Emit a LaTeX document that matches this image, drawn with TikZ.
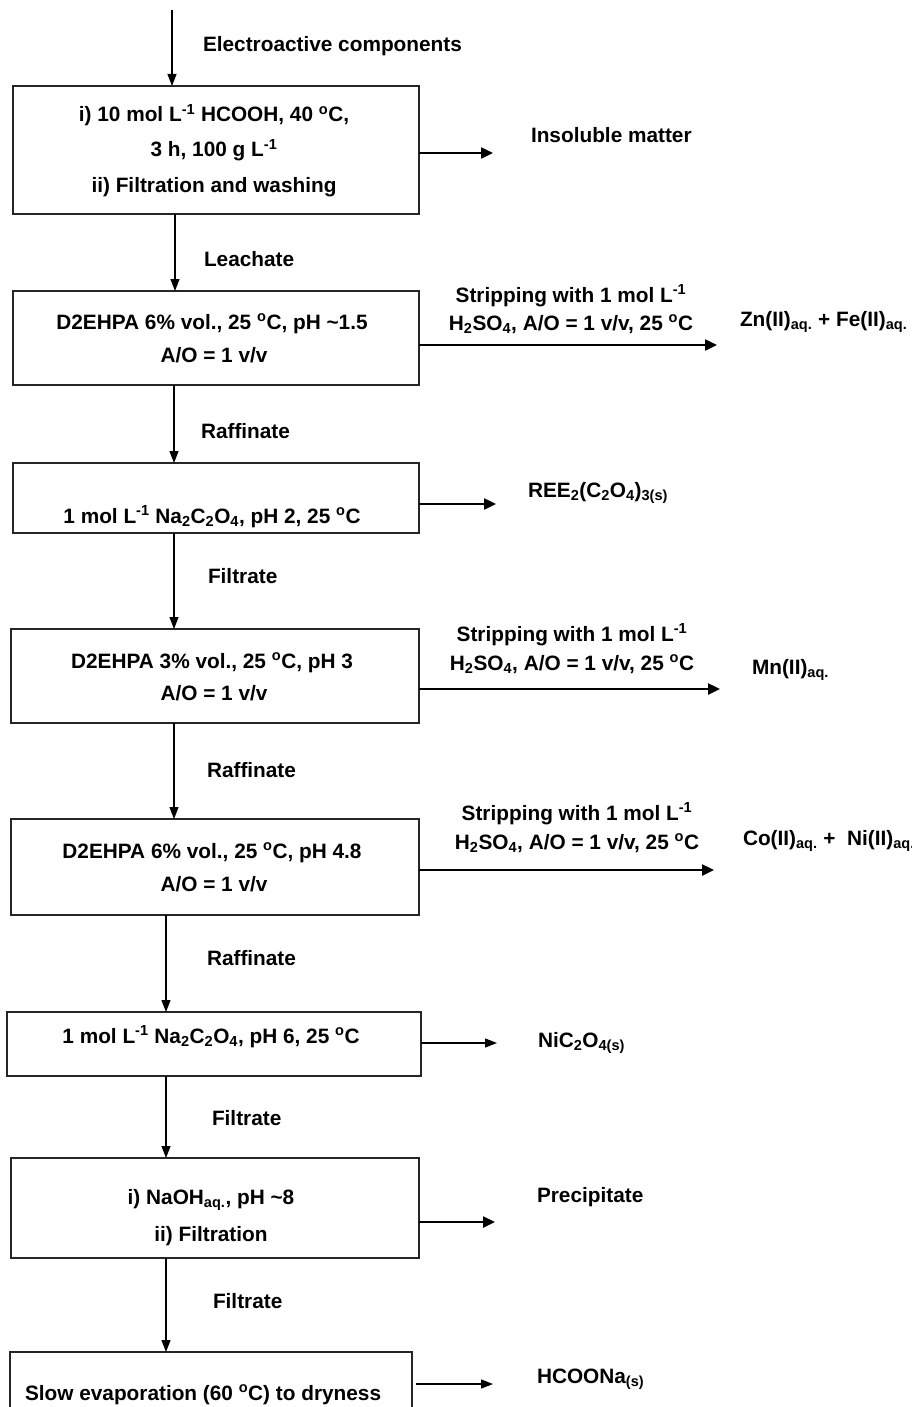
\documentclass[tikz,border=0pt]{standalone}
\usepackage{fontspec}
\setmainfont{Liberation Sans}
\usetikzlibrary{arrows.meta}
\newcommand{\sps}[1]{\textsuperscript{#1}}
\newcommand{\sbs}[1]{\textsubscript{#1}}
\begin{document}
\begin{tikzpicture}[x=1pt,y=-1pt,
  every node/.style={font=\fontsize{20.8}{24}\selectfont\bfseries, inner sep=0pt, outer sep=0pt},
  box/.style={draw=black!85, line width=1.2pt},
  flow/.style={line width=1.2pt, -{Triangle[length=12pt,width=9pt]}},
  outarrow/.style={line width=2.4pt, -{Triangle[length=12pt,width=11pt]}},
  thinout/.style={line width=1.2pt, -{Triangle[length=12pt,width=9pt]}},
  lbl/.style={anchor=base west},
  ctr/.style={anchor=base}]
\useasboundingbox (0,0) rectangle (912,1407);
\fill[white] (0,0) rectangle (912,1407);

% boxes
\node[box, minimum width=406pt, minimum height=128pt] (b1) at (216,150) {};
\node[box, minimum width=406pt, minimum height=94pt] (b2) at (216,338) {};
\node[box, minimum width=406pt, minimum height=70pt] (b3) at (216,498) {};
\node[box, minimum width=408pt, minimum height=94pt] (b4) at (215,676) {};
\node[box, minimum width=408pt, minimum height=96pt] (b5) at (215,867) {};
\node[box, minimum width=414pt, minimum height=64pt] (b6) at (214,1044) {};
\node[box, minimum width=408pt, minimum height=100pt] (b7) at (215,1208) {};
\node[box, minimum width=402pt, minimum height=68pt] (b8) at (211,1386) {};

% box texts
\node[ctr] (t1a) at (214,122) {i) 10 mol L\sps{-1} HCOOH, 40 \sps{o}C,};
\node[ctr] (t1b) at (214,157) {3 h, 100 g L\sps{-1}};
\node[ctr] (t1c) at (214,193) {ii) Filtration and washing};
\node[ctr] (t2a) at (212,329) {D2EHPA 6\% vol., 25 \sps{o}C, pH \textasciitilde1.5};
\node[ctr] (t2b) at (214,362) {A/O = 1 v/v};
\node[ctr] (t3) at (212,523) {1 mol L\sps{-1} Na\sbs{2}C\sbs{2}O\sbs{4}, pH 2, 25 \sps{o}C};
\node[ctr] (t4a) at (212,668) {D2EHPA 3\% vol., 25 \sps{o}C, pH 3};
\node[ctr] (t4b) at (214,700) {A/O = 1 v/v};
\node[ctr] (t5a) at (212,858) {D2EHPA 6\% vol., 25 \sps{o}C, pH 4.8};
\node[ctr] (t5b) at (214,891) {A/O = 1 v/v};
\node[ctr] (t6) at (211,1043) {1 mol L\sps{-1} Na\sbs{2}C\sbs{2}O\sbs{4}, pH 6, 25 \sps{o}C};
\node[ctr] (t7a) at (211,1204) {i) NaOH\sbs{aq.}, pH \textasciitilde8};
\node[ctr] (t7b) at (211,1241) {ii) Filtration};
\node[lbl] (t8) at (25,1400) {Slow evaporation (60 \sps{o}C) to dryness};

% stream labels
\node[lbl] (l0) at (203,52) {Electroactive components};
\node[lbl] (l1) at (204,266) {Leachate};
\node[lbl] (l2) at (201,438) {Raffinate};
\node[lbl] (l3) at (208,583) {Filtrate};
\node[lbl] (l4) at (207,777) {Raffinate};
\node[lbl] (l5) at (207,965) {Raffinate};
\node[lbl] (l6) at (212,1125) {Filtrate};
\node[lbl] (l7) at (213,1308) {Filtrate};

% stripping labels
\node[ctr] (s2a) at (571,302) {Stripping with 1 mol L\sps{-1}};
\node[ctr] (s2b) at (571,330) {H\sbs{2}SO\sbs{4}, A/O = 1 v/v, 25 \sps{o}C};
\node[ctr] (s4a) at (572,641) {Stripping with 1 mol L\sps{-1}};
\node[ctr] (s4b) at (572,670) {H\sbs{2}SO\sbs{4}, A/O = 1 v/v, 25 \sps{o}C};
\node[ctr] (s5a) at (577,820) {Stripping with 1 mol L\sps{-1}};
\node[ctr] (s5b) at (577,849) {H\sbs{2}SO\sbs{4}, A/O = 1 v/v, 25 \sps{o}C};

% products
\node[lbl] (p1) at (531,143) {Insoluble matter};
\node[lbl] (p2) at (740,326) {Zn(II)\sbs{aq.} + Fe(II)\sbs{aq.}};
\node[lbl] (p3) at (528,497) {REE\sbs{2}(C\sbs{2}O\sbs{4})\sbs{3(s)}};
\node[lbl] (p4) at (752,674) {Mn(II)\sbs{aq.}};
\node[lbl] (p5) at (743,845) {Co(II)\sbs{aq.} +\ \ Ni(II)\sbs{aq.}};
\node[lbl] (p6) at (538,1047) {NiC\sbs{2}O\sbs{4(s)}};
\node[lbl] (p7) at (537,1202) {Precipitate};
\node[lbl] (p8) at (537,1383) {HCOONa\sbs{(s)}};

% vertical flow
\coordinate (c0) at (172,10);
\coordinate (c1) at (175,0);
\coordinate (c2) at (174,0);
\coordinate (c3) at (166,0);
\draw[flow] (c0) -- (b1.north -| c0);
\draw[flow] (b1.south -| c1) -- (b2.north -| c1);
\draw[flow] (b2.south -| c2) -- (b3.north -| c2);
\draw[flow] (b3.south -| c2) -- (b4.north -| c2);
\draw[flow] (b4.south -| c2) -- (b5.north -| c2);
\draw[flow] (b5.south -| c3) -- (b6.north -| c3);
\draw[flow] (b6.south -| c3) -- (b7.north -| c3);
\draw[flow] (b7.south -| c3) -- (b8.north -| c3);

% outgoing arrows
\coordinate (e1) at (493,153);
\coordinate (e2) at (717,345);
\coordinate (e3) at (496,504);
\coordinate (e4) at (720,689);
\coordinate (e5) at (714,870);
\coordinate (e6) at (497,1043);
\coordinate (e7) at (495,1222);
\coordinate (e8) at (493,1384);
\coordinate (x8) at (416,0);
\draw[outarrow] (b1.east |- e1) -- (e1);
\draw[outarrow] (b2.east |- e2) -- (e2);
\draw[outarrow] (b3.east |- e3) -- (e3);
\draw[outarrow] (b4.east |- e4) -- (e4);
\draw[outarrow] (b5.east |- e5) -- (e5);
\draw[thinout] (b6.east |- e6) -- (e6);
\draw[outarrow] (b7.east |- e7) -- (e7);
\draw[thinout] (x8 |- e8) -- (e8);
\end{tikzpicture}
\end{document}
